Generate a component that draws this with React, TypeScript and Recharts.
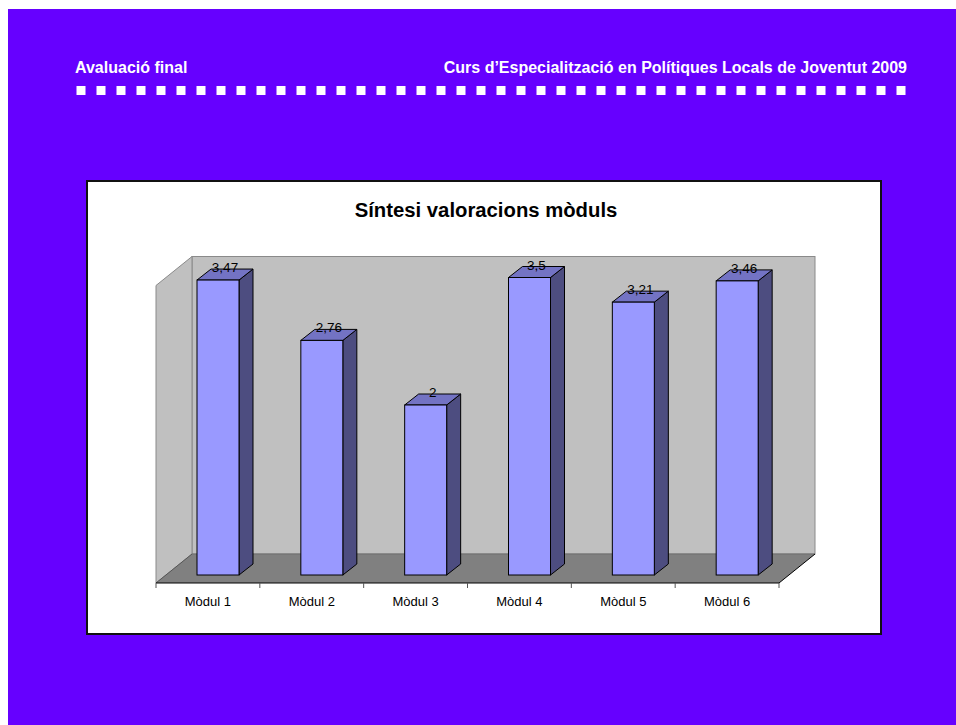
import React from "react";
import { BarChart, Bar, XAxis, YAxis, ReferenceArea, LabelList } from "recharts";

const categories = ["Mòdul 1", "Mòdul 2", "Mòdul 3", "Mòdul 4", "Mòdul 5", "Mòdul 6"];
const values = [3.47, 2.76, 2, 3.5, 3.21, 3.46];
const yDomain: [number, number] = [0, 3.5];

const chartTitle = "Síntesi valoracions mòduls";
const headerLeft = "Avaluació final";
const headerRight = "Curs d’Especialització en Polítiques Locals de Joventut 2009";

const data = categories.map((name, i) => ({ name, value: values[i] }));

const FONT = "'Liberation Sans', Arial, Helvetica, sans-serif";
const PURPLE = "#6600FF";
const FRONT = "#9999FF";
const TOP = "#7373C4";
const SIDE = "#4D4D80";
const WALL = "#C0C0C0";
const FLOOR = "#808080";

// depth geometry (pixels)
const BAR_DX = 14;
const BAR_DY = 11;
const FRONT_OFF = { dx: -10, dy: 8 };
const BACK_OFF = { dx: 26, dy: -21 };

const fmt = (v: number) => String(v).replace(".", ",");

const Bar3D = (props: any) => {
  const { x, y, width: w, height: h } = props;
  if (w == null || h == null) return null;
  const sidePts = `${x + w},${y} ${x + w + BAR_DX},${y - BAR_DY} ${x + w + BAR_DX},${y + h - BAR_DY} ${x + w},${y + h}`;
  const topPts = `${x},${y} ${x + BAR_DX},${y - BAR_DY} ${x + w + BAR_DX},${y - BAR_DY} ${x + w},${y}`;
  return (
    <g>
      <polygon points={sidePts} fill={SIDE} stroke="#000" strokeWidth={1} strokeLinejoin="round" />
      <polygon points={topPts} fill={TOP} stroke="#000" strokeWidth={1} strokeLinejoin="round" />
      <rect x={x} y={y} width={w} height={h} fill={FRONT} stroke="#000" strokeWidth={1} />
    </g>
  );
};

const Walls = (props: any) => {
  const { x, y, width: w, height: h } = props;
  if (w == null || h == null) return null;
  const fx0 = x + FRONT_OFF.dx, fx1 = x + w + FRONT_OFF.dx;
  const fy0 = y + FRONT_OFF.dy, fy1 = y + h + FRONT_OFF.dy;
  const bx0 = x + BACK_OFF.dx, bx1 = x + w + BACK_OFF.dx;
  const by0 = y + BACK_OFF.dy, by1 = y + h + BACK_OFF.dy;
  const n = categories.length;
  const ticks = Array.from({ length: n + 1 }, (_, i) => fx0 + (i * (fx1 - fx0)) / n);
  return (
    <g>
      <rect x={bx0} y={by0} width={bx1 - bx0} height={by1 - by0} fill={WALL} stroke="#8a8a8a" strokeWidth={1} />
      <polygon
        points={`${fx0},${fy0} ${bx0},${by0} ${bx0},${by1} ${fx0},${fy1}`}
        fill={WALL}
        stroke="#8a8a8a"
        strokeWidth={1}
      />
      <polygon points={`${fx0},${fy1} ${bx0},${by1} ${bx1},${by1} ${fx1},${fy1}`} fill={FLOOR} stroke="none" />
      <line x1={bx0} y1={by1} x2={bx1} y2={by1} stroke="#6e6e6e" strokeWidth={1} />
      <line x1={fx1} y1={fy1} x2={bx1} y2={by1} stroke="#000" strokeWidth={1} />
      <line x1={fx0} y1={fy1} x2={bx0} y2={by1} stroke="#555" strokeWidth={1} />
      <line x1={fx0} y1={fy1} x2={fx1} y2={fy1} stroke="#000" strokeWidth={1} />
      {ticks.map((tx, i) => (
        <line key={i} x1={tx} y1={fy1} x2={tx} y2={fy1 + 5} stroke="#555" strokeWidth={1} />
      ))}
    </g>
  );
};

const XTick = (props: any) => {
  const { x, y, payload } = props;
  return (
    <text
      x={x + FRONT_OFF.dx}
      y={y + 31}
      textAnchor="middle"
      fontFamily={FONT}
      fontSize={13}
      fill="#000"
    >
      {payload.value}
    </text>
  );
};

const ValueLabel = (props: any) => {
  const { x, y, width: w, value } = props;
  if (x == null || y == null) return null;
  return (
    <text
      x={x + w / 2 + BAR_DX / 2}
      y={y - 8}
      textAnchor="middle"
      fontFamily={FONT}
      fontSize={13.5}
      fill="#000"
    >
      {fmt(Number(value))}
    </text>
  );
};

export default function App() {
  const squares = Array.from({ length: 42 }, (_, i) => i);
  return (
    <div style={{ position: "fixed", left: 0, top: 0, width: 956, height: 725, background: "#fff", overflow: "hidden" }}>
      <div style={{ position: "absolute", left: 8, top: 9, width: 960, height: 730, background: PURPLE }} />
      <div
        style={{
          position: "absolute",
          left: 86,
          top: 180,
          width: 796,
          height: 455,
          background: "#fff",
          border: "2px solid #111",
          boxSizing: "border-box",
        }}
      />
      <div style={{ position: "absolute", left: 86, top: 180 }}>
        <BarChart
          width={796}
          height={455}
          data={data}
          margin={{ top: 97.5, right: 93, bottom: 30, left: 80 }}
          barSize={42}
        >
          <ReferenceArea y1={yDomain[0]} y2={yDomain[1]} shape={<Walls />} ifOverflow="visible" zIndex={-10} />
          <XAxis
            dataKey="name"
            height={30}
            axisLine={false}
            tickLine={false}
            tickSize={0}
            tickMargin={0}
            tick={<XTick />}
            interval={0}
          />
          <YAxis hide domain={yDomain} />
          <Bar dataKey="value" shape={<Bar3D />} isAnimationActive={false}>
            <LabelList dataKey="value" content={<ValueLabel />} />
          </Bar>
        </BarChart>
      </div>
      <svg
        width={956}
        height={725}
        style={{ position: "absolute", left: 0, top: 0, pointerEvents: "none" }}
      >
        <text x={75} y={73} fontFamily={FONT} fontWeight="bold" fontSize={16} fill="#fff">
          {headerLeft}
        </text>
        <text x={907} y={73} textAnchor="end" fontFamily={FONT} fontWeight="bold" fontSize={16} fill="#fff">
          {headerRight}
        </text>
        {squares.map((i) => (
          <rect key={i} x={76.5 + i * 20} y={86} width={9} height={9} fill="#fff" />
        ))}
        <text x={486} y={217} textAnchor="middle" fontFamily={FONT} fontWeight="bold" fontSize={20.3} fill="#000">
          {chartTitle}
        </text>
      </svg>
    </div>
  );
}
